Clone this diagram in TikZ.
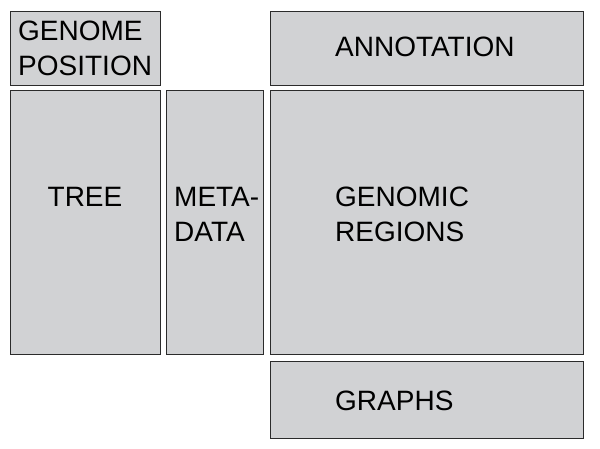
\documentclass[tikz,border=0pt]{standalone}
\usepackage{fontspec}
\setmainfont{Liberation Sans}
\definecolor{panelgray}{HTML}{D1D2D4}
\definecolor{edgegray}{HTML}{2B2B2B}
\begin{document}
\begin{tikzpicture}[x=1pt,y=-1pt,
  panel/.style={draw=edgegray,line width=1.2pt,fill=panelgray,inner sep=0pt,anchor=north west},
  lbl/.style={inner sep=0pt,align=left,font=\fontsize{28}{35}\selectfont}]
\useasboundingbox (0,0) rectangle (600,448);
% Panels
\node[panel,minimum width=150,minimum height=74] (genpos) at (10,11) {};
\node[panel,minimum width=313,minimum height=74] (annot) at (270,11) {};
\node[panel,minimum width=150,minimum height=264] (tree) at (10,90) {};
\node[panel,minimum width=97,minimum height=264] (meta) at (166,90) {};
\node[panel,minimum width=313,minimum height=264] (regions) at (270,90) {};
\node[panel,minimum width=313,minimum height=77] (graphs) at (270,361) {};

% Labels (base = last line)
\node[lbl,anchor=base west] (tgenpos) at (18,75) {GENOME\\POSITION};
\node[lbl,anchor=base west] (tannot) at (335,56.7) {ANNOTATION};
\node[lbl,anchor=base] (ttree) at (85,206.7) {TREE};
\node[lbl,anchor=base west] (tmeta) at (174,241.7) {META-\\DATA};
\node[lbl,anchor=base west] (tregions) at (335,241.7) {GENOMIC\\REGIONS};
\node[lbl,anchor=base west] (tgraphs) at (335,410) {GRAPHS};
\end{tikzpicture}
\end{document}
